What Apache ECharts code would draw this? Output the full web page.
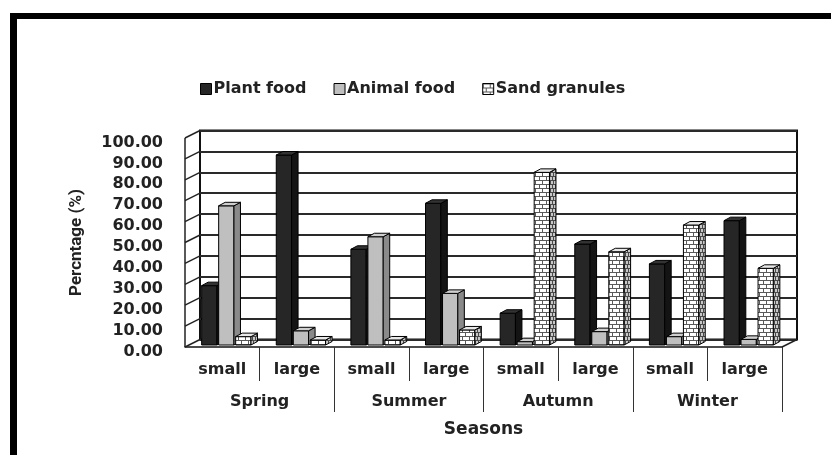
<!DOCTYPE html>
<html>
<head>
<meta charset="utf-8">
<script src="https://cdn.jsdelivr.net/npm/echarts@6/dist/echarts.min.js"></script>
<style>
  html, body { margin: 0; padding: 0; background: #fff; }
  #chart { width: 831px; height: 455px; }
</style>
</head>
<body>
<div id="chart"></div>
<script>
// ========================================
// DATA
// ========================================
var sizeLabels = ['small', 'large', 'small', 'large', 'small', 'large', 'small', 'large'];
var seasons = ['Spring', 'Summer', 'Autumn', 'Winter'];
var seriesNames = ['Plant food', 'Animal food', 'Sand granules'];
var plantFood = [28.4, 90.9, 45.8, 67.8, 15.2, 48.3, 38.8, 59.5];
var animalFood = [66.6, 6.8, 51.8, 24.7, 1.6, 6.4, 4.0, 2.7];
var sandGranules = [4.0, 2.4, 2.4, 7.2, 82.6, 44.6, 57.4, 36.7];
var yTicks = [0, 10, 20, 30, 40, 50, 60, 70, 80, 90, 100];

// depth of the 3D box and of each bar (px)
var DEPTH_X = 15, DEPTH_Y = -7.5;
var BAR_DX = 6.5, BAR_DY = -3.5;
var FONT = '"DejaVu Sans", sans-serif';

/**
 * Small brick tile used as a fill pattern for the sand bars.
 */
function brickPattern(bg, line, w, h) {
  var c = document.createElement('canvas');
  c.width = w; c.height = h * 2;
  var ctx = c.getContext('2d');
  ctx.fillStyle = bg;
  ctx.fillRect(0, 0, w, h * 2);
  ctx.strokeStyle = line;
  ctx.lineWidth = 1;
  ctx.beginPath();
  ctx.moveTo(0, 0.5); ctx.lineTo(w, 0.5);
  ctx.moveTo(0, h + 0.5); ctx.lineTo(w, h + 0.5);
  ctx.moveTo(0.5, 0); ctx.lineTo(0.5, h);
  ctx.moveTo(Math.floor(w / 2) + 0.5, h); ctx.lineTo(Math.floor(w / 2) + 0.5, h * 2);
  ctx.stroke();
  return { image: c, repeat: 'repeat' };
}

var faces = [
  { front: '#262626', side: '#141414', top: '#333333' },
  { front: '#bfbfbf', side: '#8a8a8a', top: '#cfcfcf' },
  { front: brickPattern('#ffffff', '#5a5a5a', 7, 4), side: brickPattern('#c8c8c8', '#4a4a4a', 3, 4), top: '#e8e8e8' }
];

/**
 * Render one 3D column: front face, right side and top.
 */
function barRenderer(seriesIdx) {
  var f = faces[seriesIdx];
  return function (params, api) {
    var idx = api.value(0);
    var val = api.value(1);
    var band = api.size([1, 0])[0];
    var base = api.coord([idx, 0]);
    var top = api.coord([idx, val]);
    var w = band * 0.205;
    var step = band * 0.228;
    var cx = base[0] + 4 + (seriesIdx - 1) * step;
    var x0 = cx - w / 2, x1 = cx + w / 2;
    var yb = base[1] - 2, yt = top[1] - 2;
    var stroke = { stroke: '#000', lineWidth: 1 };
    return {
      type: 'group',
      children: [
        { type: 'polygon', shape: { points: [[x0, yb], [x1, yb], [x1, yt], [x0, yt]] },
          style: Object.assign({ fill: f.front }, stroke) },
        { type: 'polygon', shape: { points: [[x1, yb], [x1 + BAR_DX, yb + BAR_DY], [x1 + BAR_DX, yt + BAR_DY], [x1, yt]] },
          style: Object.assign({ fill: f.side }, stroke) },
        { type: 'polygon', shape: { points: [[x0, yt], [x1, yt], [x1 + BAR_DX, yt + BAR_DY], [x0 + BAR_DX, yt + BAR_DY]] },
          style: Object.assign({ fill: f.top }, stroke) }
      ]
    };
  };
}

/**
 * Left wall diagonals + floor edges of the 3D box, one item per y tick.
 */
function frameRenderer(params, api) {
  var cs = params.coordSys;
  var y = api.coord([0, api.value(1)])[1];
  var st = { stroke: '#222', lineWidth: 1.5 };
  var children = [
    { type: 'line', shape: { x1: cs.x, y1: y, x2: cs.x + DEPTH_X, y2: y + DEPTH_Y }, style: st }
  ];
  if (params.dataIndex === 0) {
    children.push({ type: 'line', shape: { x1: cs.x, y1: cs.y, x2: cs.x, y2: cs.y + cs.height }, style: st });
    children.push({ type: 'line', shape: { x1: cs.x + cs.width, y1: cs.y + cs.height, x2: cs.x + cs.width + DEPTH_X, y2: cs.y + cs.height + DEPTH_Y }, style: st });
  }
  return { type: 'group', children: children };
}

var values = [plantFood, animalFood, sandGranules];
var barSeries = values.map(function (arr, i) {
  return {
    name: seriesNames[i],
    type: 'custom',
    xAxisIndex: 1,
    yAxisIndex: 1,
    z: 3,
    renderItem: barRenderer(i),
    itemStyle: { color: faces[i].front, borderColor: '#000', borderWidth: 1 },
    encode: { x: 0, y: 1 },
    data: arr.map(function (v, k) { return [k, v]; })
  };
});

// skip the tick at the very left end, like the original
function skipFirst(i) { return i !== 0; }

var chart = echarts.init(document.getElementById('chart'));
chart.setOption({
  backgroundColor: '#fff',
  animation: false,
  textStyle: { fontFamily: FONT },
  graphic: [
    { type: 'rect', shape: { x: 10, y: 13, width: 7, height: 442 }, style: { fill: '#000' } },
    { type: 'rect', shape: { x: 10, y: 13, width: 821, height: 6 }, style: { fill: '#000' } }
  ],
  legend: {
    left: 195,
    top: 76,
    icon: 'rect',
    itemWidth: 11,
    itemHeight: 11,
    itemGap: 27,
    textStyle: { fontFamily: FONT, fontWeight: 'bold', fontSize: 16, color: '#222', padding: [0, 0, 0, -3] },
    data: seriesNames.map(function (n, i) {
      return { name: n, itemStyle: { color: faces[i].front, borderColor: '#000', borderWidth: 1 } };
    })
  },
  grid: [
    // back wall
    { left: 200, right: 34, top: 130.5, bottom: 115.5, show: true, borderColor: '#111', borderWidth: 2, backgroundColor: 'transparent' },
    // front plane
    { left: 185, right: 49, top: 138, bottom: 108 }
  ],
  xAxis: [
    { gridIndex: 0, type: 'category', data: sizeLabels, show: false },
    {
      gridIndex: 1, type: 'category', data: sizeLabels, position: 'bottom',
      axisLine: { lineStyle: { color: '#111', width: 1.5 } },
      axisTick: { show: true, interval: skipFirst, length: 34, lineStyle: { color: '#333', width: 1 } },
      axisLabel: { margin: 15, fontSize: 16, fontWeight: 'bold', color: '#222', fontFamily: FONT },
      splitLine: { show: false }
    },
    {
      gridIndex: 1, type: 'category', data: seasons, position: 'bottom',
      axisLine: { show: false },
      axisTick: { show: true, interval: skipFirst, length: 65, lineStyle: { color: '#333', width: 1 } },
      axisLabel: { margin: 47, fontSize: 16, fontWeight: 'bold', color: '#222', fontFamily: FONT },
      name: 'Seasons', nameLocation: 'middle', nameGap: 74,
      nameTextStyle: { fontSize: 17, fontWeight: 'bold', color: '#222', fontFamily: FONT },
      splitLine: { show: false }
    }
  ],
  yAxis: [
    {
      gridIndex: 0, type: 'value', min: 0, max: 100, interval: 10,
      axisLabel: { show: false }, axisLine: { show: false }, axisTick: { show: false },
      splitLine: { lineStyle: { color: '#2a2a2a', width: 1.8 } }
    },
    {
      gridIndex: 1, type: 'value', min: 0, max: 100, interval: 10,
      axisLine: { show: false }, axisTick: { show: false }, splitLine: { show: false },
      axisLabel: {
        margin: 22, fontSize: 16, fontWeight: 'bold', color: '#222', fontFamily: FONT,
        verticalAlign: 'top', lineHeight: 9,
        formatter: function (v) { return v.toFixed(2); }
      },
      name: 'Percntage (%)', nameLocation: 'middle', nameRotate: 90, nameGap: 100,
      nameTextStyle: { fontSize: 17, fontWeight: 'bold', color: '#222', fontFamily: 'Roboto, sans-serif' }
    }
  ],
  series: [
    {
      name: 'frame',
      type: 'custom',
      xAxisIndex: 1,
      yAxisIndex: 1,
      z: 1,
      silent: true,
      renderItem: frameRenderer,
      encode: { x: 0, y: 1 },
      data: yTicks.map(function (v) { return [0, v]; })
    }
  ].concat(barSeries)
});
</script>
</body>
</html>
